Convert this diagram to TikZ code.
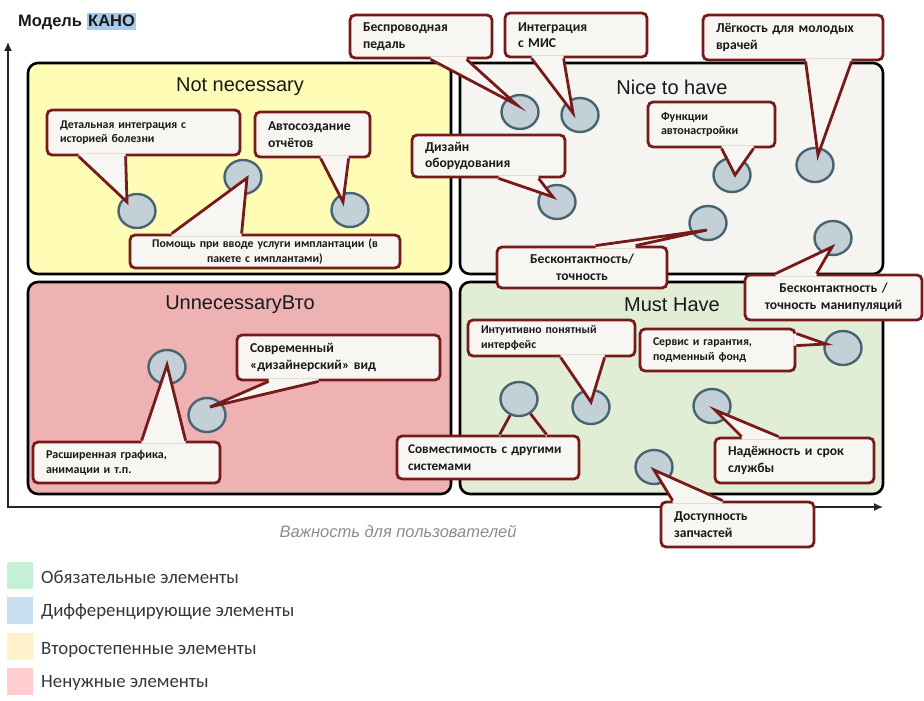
\documentclass[tikz,border=0pt]{standalone}
\usepackage{fontspec}
\setmainfont{Carlito}
\newfontfamily\arialf{Liberation Sans}
\usetikzlibrary{calc,shapes.geometric,arrows.meta}

\definecolor{cfill}{RGB}{247,246,242}
\definecolor{cline}{RGB}{118,26,26}
\definecolor{efill}{RGB}{196,208,215}
\definecolor{eline}{RGB}{72,100,112}
\definecolor{zyel}{RGB}{255,253,181}
\definecolor{znice}{RGB}{245,244,240}
\definecolor{zred}{RGB}{237,178,177}
\definecolor{zgreen}{RGB}{226,237,214}
\definecolor{lgreen}{RGB}{198,239,215}
\definecolor{lblue}{RGB}{201,222,240}
\definecolor{lyellow}{RGB}{255,241,201}
\definecolor{lred}{RGB}{255,205,205}
\definecolor{hl}{RGB}{166,202,232}
\definecolor{txt}{RGB}{25,25,25}
\definecolor{axisgray}{RGB}{140,140,140}
\definecolor{legtxt}{RGB}{55,55,55}

% #1 node, #2 anchor, #3 offset A, #4 offset B, #5 tip, #6 inward vector
\newcommand{\calloutptr}[6]{%
  \coordinate (pa) at ($(#1.#2)+(#3)$);
  \coordinate (pb) at ($(#1.#2)+(#4)$);
  \fill[cfill] ($(pa)+(#6)$) -- (pa) -- (#5) -- (pb) -- ($(pb)+(#6)$) -- cycle;
  \draw[cline, line width=2.8pt] (pa) -- (#5) -- (pb);
}

\begin{document}
\begin{tikzpicture}[x=1pt,y=-1pt,
  zone/.style={draw=black, line width=2.6pt, rounded corners=10pt, inner sep=0pt},
  ztitle/.style={font=\arialf\fontsize{20}{24}\selectfont, text=txt, inner sep=0pt},
  ell/.style={ellipse, draw=eline, line width=2.4pt, fill=efill, minimum width=37pt, minimum height=34pt, inner sep=0pt},
  cb/.style={draw=cline, fill=cfill, line width=2.8pt, rounded corners=5pt, inner xsep=13pt, inner ysep=0pt, align=left, text=txt, font=\bfseries\fontsize{13.6}{16.5}\selectfont},
  cbs/.style={cb, font=\bfseries\fontsize{11.8}{14.5}\selectfont},
  lgsq/.style={minimum width=26pt, minimum height=27pt, inner sep=0pt},
  lgtxt/.style={anchor=west, inner sep=0pt, text=legtxt, font=\fontsize{18.8}{22}\selectfont},
  axisline/.style={draw=black!85, line width=1.3pt}
]
\useasboundingbox (0,0) rectangle (924,701);

% zones
\node[zone, fill=zyel, minimum width=423pt, minimum height=211pt] (z1) at (239.5,168.5) {};
\node[zone, fill=znice, minimum width=423pt, minimum height=211pt] (z2) at (671.5,168.5) {};
\node[zone, fill=zred, minimum width=423pt, minimum height=212pt] (z3) at (239.5,388) {};
\node[zone, fill=zgreen, minimum width=423pt, minimum height=212pt] (z4) at (671.5,388) {};
\node[ztitle] (z1t) at (240,87) {Not necessary};
\node[ztitle] (z2t) at (672,87) {Nice to have};
\node[ztitle] (z3t) at (240,305) {UnnecessaryВто};
\node[ztitle] (z4t) at (672,305) {Must Have};

% axes
\coordinate (o) at (8,507);
\coordinate (ytop) at (8,42);
\coordinate (xend) at (883,507);
\draw[axisline, {Latex[length=9pt,width=8pt]}-{Latex[length=9pt,width=8pt]}] (ytop) -- (o) -- (xend);
\node[font=\arialf\itshape\fontsize{16.5}{20}\selectfont, text=axisgray, inner sep=0pt] (xl) at (398,531) {Важность для пользователей};

% ellipses
\node[ell] (e1) at (137,211) {};
\node[ell] (e2) at (243,177) {};
\node[ell] (e3) at (350,210) {};
\node[ell] (e4) at (520,112) {};
\node[ell] (e5) at (580,115) {};
\node[ell] (e6) at (815,165) {};
\node[ell] (e7) at (732,175) {};
\node[ell] (e8) at (557,202) {};
\node[ell] (e9) at (708,223) {};
\node[ell] (e10) at (833,238) {};
\node[ell] (e11) at (591,407) {};
\node[ell] (e12) at (519,399) {};
\node[ell] (e13) at (843,348) {};
\node[ell] (e14) at (712,406) {};
\node[ell] (e15) at (654,467) {};
\node[ell] (e16) at (207,415) {};
\node[ell] (e17) at (167,367) {};

% callouts
\node[cbs, minimum width=193pt, minimum height=45pt, text width=167pt] (c1) at (143.5,132.5) {Детальная интеграция с\\историей болезни};
\calloutptr{c1}{south west}{33,0}{80,0}{$(e1)+(-10,-9)$}{0,-3}

\node[cbs, align=center, minimum width=270pt, minimum height=33pt, text width=244pt] (c2) at (265,251.5) {Помощь при вводе услуги имплантации (в\\пакете с имплантами)};
\calloutptr{c2}{north west}{43,0}{113,0}{$(e2)+(4,1)$}{0,3}

\node[cb, minimum width=115pt, minimum height=45pt, text width=89pt] (c3) at (312.5,134.5) {Автосоздание\\отчётов};
\calloutptr{c3}{south west}{67,0}{95,0}{$(e3)+(-7,-8)$}{0,-3}

\node[cb, minimum width=142pt, minimum height=43pt, text width=116pt] (c4) at (421,36.5) {Беспроводная\\педаль};
\calloutptr{c4}{south west}{82,0}{118,0}{$(e4)+(-3,-7)$}{0,-3}

\node[cb, minimum width=142pt, minimum height=44pt, text width=116pt] (c5) at (576,35) {Интеграция\\с МИС};
\calloutptr{c5}{south west}{28,0}{60,0}{$(e5)+(-7,-2)$}{0,-3}

\node[cb, minimum width=180pt, minimum height=45pt, text width=154pt] (c6) at (793,37.5) {Лёгкость для молодых\\врачей};
\calloutptr{c6}{south west}{104,0}{150,0}{$(e6)+(3,-10)$}{0,-3}

\node[cb, font=\bfseries\fontsize{12}{14.5}\selectfont, minimum width=127pt, minimum height=45pt, text width=101pt] (c7) at (711.5,124.5) {Функции\\автонастройки};
\calloutptr{c7}{south west}{75,0}{107,0}{$(e7)+(3,0)$}{0,-3}

\node[cb, minimum width=153pt, minimum height=42pt, text width=127pt] (c8) at (488.5,156) {Дизайн\\оборудования};
\calloutptr{c8}{south west}{88,0}{128,0}{$(e8)+(-4,-5)$}{0,-3}

\node[cb, align=center, minimum width=170pt, minimum height=41pt, text width=144pt] (c9) at (582,267.5) {Бесконтактность/\\точность};
\calloutptr{c9}{north west}{100,0}{140,0}{$(e9)+(-1,7)$}{0,3}

\node[cb, align=center, minimum width=177pt, minimum height=45pt, text width=151pt] (c10) at (833.5,297.5) {Бесконтактность /\\точность манипуляций};
\calloutptr{c10}{north west}{32,0}{73,0}{$(e10)+(-1,9)$}{0,3}

\node[cbs, minimum width=167pt, minimum height=36pt, text width=141pt] (c11) at (551.5,338) {Интуитивно понятный\\интерфейс};
\calloutptr{c11}{south west}{94,0}{138,0}{$(e11)+(0,-5)$}{0,-3}

\node[cb, font=\bfseries\fontsize{13.3}{16.5}\selectfont, inner xsep=11pt, minimum width=182pt, minimum height=43pt, text width=160pt] (c12) at (488,457.5) {Совместимость с другими\\системами};
\calloutptr{c12}{north west}{104,0}{151,0}{e12}{0,3}

\node[cbs, minimum width=155pt, minimum height=42pt, text width=129pt] (c13) at (717.5,350) {Сервис и гарантия,\\подменный фонд};
\calloutptr{c13}{north east}{0,6}{0,18}{$(e13)+(-17,-4)$}{-3,0}

\node[cb, minimum width=159pt, minimum height=45pt, text width=133pt] (c14) at (794.5,460.5) {Надёжность и срок\\службы};
\calloutptr{c14}{north west}{28,0}{65,0}{$(e14)+(3,4)$}{0,3}

\node[cb, minimum width=153pt, minimum height=45pt, text width=127pt] (c15) at (737.5,524.5) {Доступность\\запчастей};
\calloutptr{c15}{north west}{13,0}{63,0}{$(e15)+(0,3)$}{0,3}

\node[cb, minimum width=203pt, minimum height=45pt, text width=177pt] (c16) at (338.5,357.5) {Современный\\«дизайнерский» вид};
\calloutptr{c16}{south west}{33,0}{83,0}{$(e16)+(3,-8)$}{0,-3}

\node[cb, font=\bfseries\fontsize{12}{15}\selectfont, minimum width=187pt, minimum height=41pt, text width=161pt] (c17) at (126.5,462.5) {Расширенная графика,\\анимации и т.п.};
\calloutptr{c17}{north west}{110,0}{154,0}{$(e17)+(0,-2)$}{0,3}

% legend
\node[lgsq, fill=lgreen] (l1) at (20,575) {};
\node[lgsq, fill=lblue] (l2) at (20,610) {};
\node[lgsq, fill=lyellow] (l3) at (20,646) {};
\node[lgsq, fill=lred] (l4) at (20,681) {};
\node[lgtxt] (l1t) at (41,577) {Обязательные элементы};
\node[lgtxt] (l2t) at (41,612) {Дифференцирующие элементы};
\node[lgtxt] (l3t) at (41,650) {Второстепенные элементы};
\node[lgtxt] (l4t) at (41,683) {Ненужные элементы};

% title
\node[anchor=base west, inner sep=0pt, text=txt, font=\arialf\bfseries\fontsize{16.5}{20}\selectfont] (t1) at (18,27) {Модель};
\node[anchor=base west, fill=hl, inner xsep=1pt, inner ysep=0pt, text height=14pt, text depth=3pt, text=txt, font=\arialf\bfseries\fontsize{16.5}{20}\selectfont] (t2) at (87,27) {КАНО};
\end{tikzpicture}
\end{document}
